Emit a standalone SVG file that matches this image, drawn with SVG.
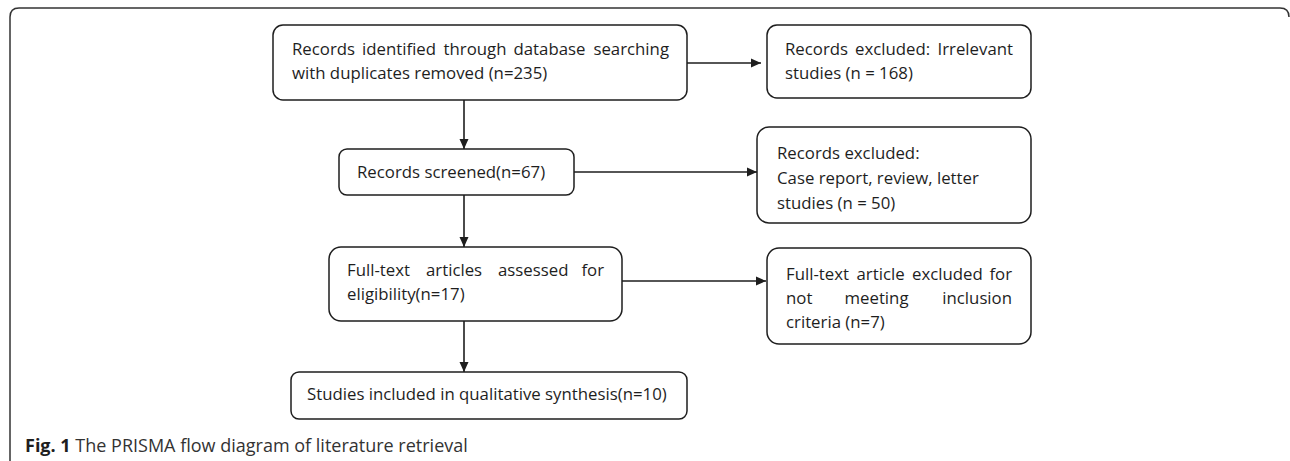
<svg xmlns="http://www.w3.org/2000/svg" width="1290" height="461" viewBox="0 0 1290 461">
<style>
.box{fill:#fff;stroke:#1e1e1e;stroke-width:1.5}
.t{font-family:"Open Sans","Liberation Sans",sans-serif;font-size:16.8px;fill:#1e1e1e}
.edge{stroke:#1e1e1e;stroke-width:1.6;fill:none}
.cap{font-family:"Open Sans","Liberation Sans",sans-serif;font-size:18px;fill:#333}
</style>
<defs>
<marker id="ah" viewBox="0 0 10 10" refX="10" refY="5" markerWidth="10" markerHeight="10" markerUnits="userSpaceOnUse" orient="auto">
<path d="M0,0.5 L10,5 L0,9.5 z" fill="#1e1e1e"/>
</marker>
</defs>
<path d="M10,461 V17 Q10,8 19,8 H1280 Q1289,8 1289,17" fill="none" stroke="#333" stroke-width="1.5"/>
<g id="connectors">
<path class="edge" d="M687,63 H761" marker-end="url(#ah)"/>
<path class="edge" d="M464,100 V149" marker-end="url(#ah)"/>
<path class="edge" d="M574,172 H757" marker-end="url(#ah)"/>
<path class="edge" d="M464,195 V247" marker-end="url(#ah)"/>
<path class="edge" d="M622,281 H766" marker-end="url(#ah)"/>
<path class="edge" d="M464,321 V372" marker-end="url(#ah)"/>
</g>
<g id="n1">
<rect class="box" x="273" y="25" width="414" height="75" rx="10"/>
<text class="t" y="55"><tspan x="292">Records</tspan><tspan x="362">identified</tspan><tspan x="443.5">through</tspan><tspan x="513.5">database</tspan><tspan x="669" text-anchor="end">searching</tspan></text>
<text class="t" x="292" y="79">with duplicates removed (n=235)</text>
</g>
<g id="n2">
<rect class="box" x="767" y="25" width="264" height="73" rx="10"/>
<text class="t" y="55"><tspan x="785">Records</tspan><tspan x="855">excluded:</tspan><tspan x="1013" text-anchor="end">Irrelevant</tspan></text>
<text class="t" x="785" y="79">studies (n = 168)</text>
</g>
<g id="n3">
<rect class="box" x="339" y="149" width="235" height="46" rx="8"/>
<text class="t" x="357" y="178">Records screened(n=67)</text>
</g>
<g id="n4">
<rect class="box" x="757" y="127" width="274" height="96" rx="12"/>
<text class="t" x="777" y="159">Records excluded:</text>
<text class="t" x="777" y="184">Case report, review, letter</text>
<text class="t" x="777" y="209">studies (n = 50)</text>
</g>
<g id="n5">
<rect class="box" x="329" y="247" width="293" height="74" rx="12"/>
<text class="t" y="276"><tspan x="347">Full-text</tspan><tspan x="426">articles</tspan><tspan x="498">assessed</tspan><tspan x="604" text-anchor="end">for</tspan></text>
<text class="t" x="347" y="300">eligibility(n=17)</text>
</g>
<g id="n6">
<rect class="box" x="767" y="248" width="264" height="96" rx="12"/>
<text class="t" y="280"><tspan x="786">Full-text</tspan><tspan x="856.5">article</tspan><tspan x="912">excluded</tspan><tspan x="1012" text-anchor="end">for</tspan></text>
<text class="t" y="304"><tspan x="786">not</tspan><tspan x="844.5">meeting</tspan><tspan x="1012" text-anchor="end">inclusion</tspan></text>
<text class="t" x="786" y="328">criteria (n=7)</text>
</g>
<g id="n7">
<rect class="box" x="291" y="372" width="396" height="47" rx="8"/>
<text class="t" x="307" y="400">Studies included in qualitative synthesis(n=10)</text>
</g>
<text class="cap" x="25" y="452"><tspan font-weight="bold" fill="#1e1e1e">Fig. 1</tspan> The PRISMA flow diagram of literature retrieval</text>
</svg>
